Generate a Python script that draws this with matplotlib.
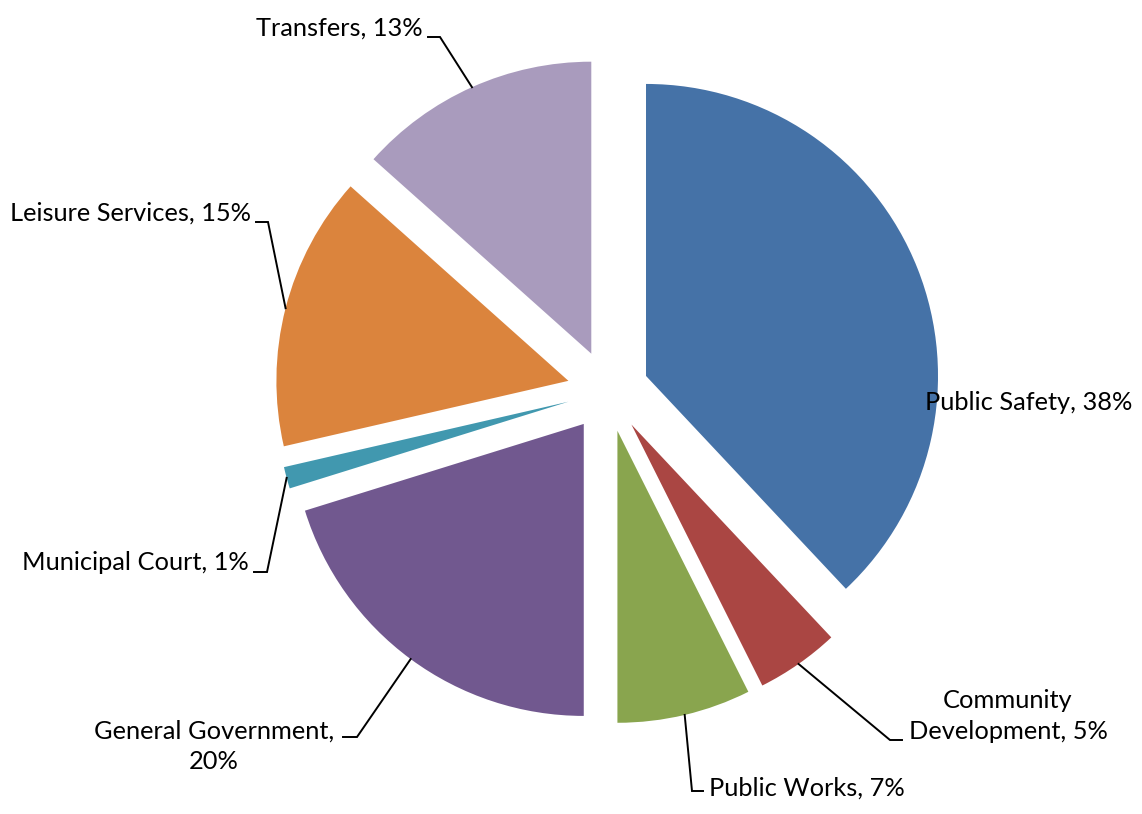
import numpy as np
import matplotlib
matplotlib.use("Agg")
import matplotlib.pyplot as plt

# slice data, clockwise from 12 o'clock
categories = ["Public Safety", "Community Development", "Public Works", "General Government",
              "Municipal Court", "Leisure Services", "Transfers"]
shares = [38.0, 4.6, 7.4, 20.2, 1.2, 15.2, 13.4]
label_texts = ["Public Safety, 38%", "Community\nDevelopment, 5%", "Public Works, 7%",
               "General Government,\n20%", "Municipal Court, 1%", "Leisure Services, 15%",
               "Transfers, 13%"]
colors = ["#4572A7", "#AA4643", "#89A54E", "#71588F", "#4198AF", "#DB843D", "#A99BBD"]

W, H = 1142, 814
CX, CY, R = 608, 391, 292   # pie centre and radius in pixels


def px(x, y):
    # pixel position (top-left origin) -> data units
    return (x - CX) / R, (CY - y) / R


# label layout: text anchor (px), ha, leader elbow (x_text_side, x_bend, y) or None
label_layout = [
    ((925, 403), "left", None),
    ((1008, 716), "center", (902, 890, 740)),
    ((709, 788), "left", (703, 692, 791)),
    ((214, 746), "center", (343, 357, 737)),
    ((249, 563), "right", (254, 267, 572)),
    ((251, 213), "right", (256, 268, 222)),
    ((423, 28), "right", (428, 440, 37)),
]

plt.rcParams['font.family'] = ['Lato', 'DejaVu Sans']

fig = plt.figure(figsize=(W / 100, H / 100), dpi=100)
ax = fig.add_axes([0, 0, 1, 1])
wedges, _ = ax.pie(shares, colors=colors, startangle=90, counterclock=False,
                   explode=[0.14] * len(shares), radius=1,
                   wedgeprops=dict(linewidth=0))
ax.set_xlim(-CX / R, (W - CX) / R)
ax.set_ylim(-(H - CY) / R, CY / R)
ax.set_aspect("equal", adjustable="box")
ax.axis("off")

for w, txt, (pos, ha, elbow) in zip(wedges, label_texts, label_layout):
    tx, ty = px(*pos)
    ax.text(tx, ty, txt, ha=ha, va="center", fontsize=18.3, color="black",
            multialignment="center", linespacing=1.4)
    if elbow is None:
        continue
    # leader runs to the middle of the slice's outer arc
    mid = np.deg2rad((w.theta1 + w.theta2) / 2)
    tip = (w.center[0] + w.r * np.cos(mid), w.center[1] + w.r * np.sin(mid))
    x1, y1 = px(elbow[0], elbow[2])
    x2, y2 = px(elbow[1], elbow[2])
    ax.plot([x1, x2, tip[0]], [y1, y2, tip[1]], color="black", linewidth=1.4,
            solid_joinstyle="miter")

fig.savefig("out.png", dpi=100, facecolor="white")
